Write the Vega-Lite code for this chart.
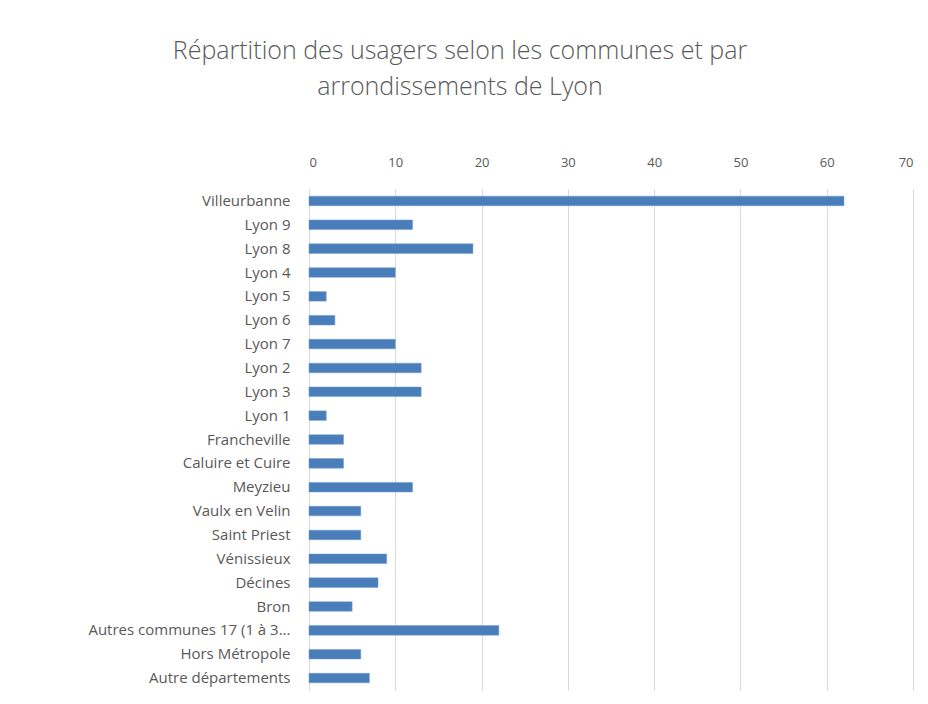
{
  "$schema": "https://vega.github.io/schema/vega-lite/v6.json",
  "width": 604,
  "height": 501,
  "autosize": {"type": "none"},
  "padding": {"left": 309, "top": 189, "right": 15, "bottom": 14},
  "background": "white",
  "title": {
    "text": ["Répartition des usagers selon les communes et par", "arrondissements de Lyon"],
    "anchor": "middle",
    "frame": "group",
    "dx": -151,
    "dy": -36,
    "fontSize": 25,
    "font": "Open Sans",
    "fontWeight": 300,
    "color": "#595959",
    "lineHeight": 36,
    "offset": 20
  },
  "data": {
    "values": [
      {"commune": "Villeurbanne", "usagers": 62},
      {"commune": "Lyon 9", "usagers": 12},
      {"commune": "Lyon 8", "usagers": 19},
      {"commune": "Lyon 4", "usagers": 10},
      {"commune": "Lyon 5", "usagers": 2},
      {"commune": "Lyon 6", "usagers": 3},
      {"commune": "Lyon 7", "usagers": 10},
      {"commune": "Lyon 2", "usagers": 13},
      {"commune": "Lyon 3", "usagers": 13},
      {"commune": "Lyon 1", "usagers": 2},
      {"commune": "Francheville", "usagers": 4},
      {"commune": "Caluire et Cuire", "usagers": 4},
      {"commune": "Meyzieu", "usagers": 12},
      {"commune": "Vaulx en Velin", "usagers": 6},
      {"commune": "Saint Priest", "usagers": 6},
      {"commune": "Vénissieux", "usagers": 9},
      {"commune": "Décines", "usagers": 8},
      {"commune": "Bron", "usagers": 5},
      {"commune": "Autres communes  17 (1 à 3...", "usagers": 22},
      {"commune": "Hors Métropole", "usagers": 6},
      {"commune": "Autre départements", "usagers": 7}
    ]
  },
  "mark": {"type": "bar", "color": "#4a7ebb", "stroke": "#6f9ad0", "strokeWidth": 0.5},
  "encoding": {
    "y": {
      "field": "commune",
      "type": "nominal",
      "sort": null,
      "title": null,
      "scale": {"paddingInner": 0.6, "paddingOuter": 0.3},
      "axis": {
        "domain": false,
        "ticks": false,
        "labelFont": "Open Sans",
        "labelFontSize": 15,
        "labelColor": "#595959",
        "labelPadding": 19,
        "labelLimit": 300
      }
    },
    "x": {
      "field": "usagers",
      "type": "quantitative",
      "title": null,
      "scale": {"domain": [0, 70], "nice": false},
      "axis": {
        "orient": "top",
        "values": [0, 10, 20, 30, 40, 50, 60, 70],
        "domain": false,
        "ticks": false,
        "grid": true,
        "gridColor": "#d9d9d9",
        "gridWidth": 1,
        "labelFont": "Open Sans",
        "labelFontSize": 13,
        "labelColor": "#595959",
        "labelPadding": 20
      }
    }
  },
  "config": {
    "view": {"stroke": null}
  }
}
